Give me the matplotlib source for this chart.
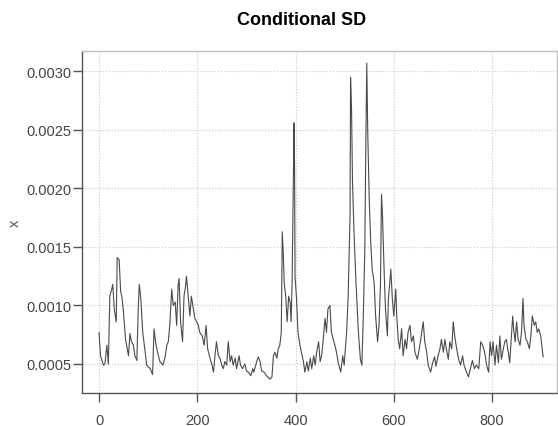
import numpy as np
import matplotlib.pyplot as plt

# conditional SD series
t = [0, 3, 9, 12, 16, 19, 22, 26, 28, 31, 35, 37, 41, 44, 47, 50, 54, 60, 63, 66,
     70, 73, 77, 80, 82, 85, 89, 94, 97, 104, 109, 112, 115, 119, 124, 130, 134, 138,
     141, 144, 148, 151, 155, 158, 161, 163, 166, 170, 173, 176, 178, 182, 185, 188,
     192, 195, 199, 202, 205, 210, 214, 218, 221, 226, 230, 233, 236, 239, 243, 246,
     250, 253, 256, 260, 263, 267, 270, 273, 277, 280, 285, 288, 292, 297, 300, 304,
     309, 313, 315, 319, 324, 328, 331, 336, 341, 348, 352, 355, 358, 362, 365, 368,
     371, 373, 375, 377, 380, 383, 386, 389, 391, 393, 395, 397, 398, 399, 402, 405,
     409, 412, 416, 419, 423, 426, 430, 433, 437, 440, 443, 447, 450, 453, 456, 460,
     463, 466, 470, 473, 478, 482, 487, 492, 496, 499, 504, 507, 511, 512, 514, 516,
     519, 523, 528, 532, 535, 538, 541, 543, 545, 547, 550, 553, 556, 560, 563, 567,
     570, 573, 575, 577, 580, 583, 587, 589, 592, 594, 597, 600, 604, 606, 609, 612,
     616, 619, 623, 626, 629, 633, 636, 640, 643, 648, 652, 657, 660, 663, 667, 670,
     675, 679, 683, 686, 690, 694, 697, 701, 704, 707, 711, 714, 718, 721, 724, 728,
     732, 736, 740, 743, 748, 752, 756, 760, 764, 768, 773, 777, 781, 785, 789, 793,
     796, 799, 802, 806, 809, 813, 816, 819, 823, 826, 829, 833, 836, 840, 842, 844,
     847, 850, 853, 857, 860, 863, 865, 869, 872, 876, 879, 882, 886, 889, 892, 895,
     899, 904]
sd = [0.00077, 0.00057, 0.00049, 0.00050, 0.00066, 0.00050, 0.00108, 0.00114, 0.00118,
      0.00097, 0.00086, 0.00141, 0.00139, 0.00112, 0.00106, 0.00093, 0.00071, 0.00057,
      0.00076, 0.00069, 0.00066, 0.00057, 0.00053, 0.00100, 0.00118, 0.00106, 0.00077,
      0.00060, 0.00049, 0.00046, 0.00041, 0.00080, 0.00069, 0.00060, 0.00052, 0.00049,
      0.00055, 0.00066, 0.00069, 0.00083, 0.00114, 0.00100, 0.00103, 0.00083, 0.00117,
      0.00123, 0.00086, 0.00069, 0.00108, 0.00116, 0.00125, 0.00106, 0.00091, 0.00108,
      0.00097, 0.00089, 0.00086, 0.00083, 0.00077, 0.00074, 0.00066, 0.00083, 0.00063,
      0.00055, 0.00049, 0.00043, 0.00057, 0.00069, 0.00057, 0.00055, 0.00049, 0.00046,
      0.00052, 0.00049, 0.00069, 0.00052, 0.00057, 0.00049, 0.00055, 0.00046, 0.00057,
      0.00049, 0.00046, 0.00050, 0.00044, 0.00043, 0.00040, 0.00046, 0.00043, 0.00049,
      0.00056, 0.00052, 0.00044, 0.00043, 0.00040, 0.00037, 0.00039, 0.00057, 0.00060,
      0.00055, 0.00063, 0.00066, 0.00077, 0.00163, 0.00145, 0.00119, 0.00108, 0.00086,
      0.00108, 0.00103, 0.00086, 0.00119, 0.00191, 0.00256, 0.00220, 0.00125, 0.00106,
      0.00077, 0.00066, 0.00060, 0.00052, 0.00043, 0.00052, 0.00044, 0.00055, 0.00046,
      0.00057, 0.00049, 0.00060, 0.00069, 0.00052, 0.00057, 0.00069, 0.00089, 0.00077,
      0.00097, 0.00100, 0.00077, 0.00069, 0.00063, 0.00051, 0.00043, 0.00057, 0.00049,
      0.00077, 0.00106, 0.00177, 0.00295, 0.00268, 0.00205, 0.00163, 0.00120, 0.00077,
      0.00054, 0.00049, 0.00091, 0.00148, 0.00234, 0.00307, 0.00248, 0.00191, 0.00154,
      0.00131, 0.00120, 0.00091, 0.00069, 0.00083, 0.00120, 0.00195, 0.00177, 0.00134,
      0.00097, 0.00074, 0.00106, 0.00120, 0.00131, 0.00106, 0.00091, 0.00114, 0.00091,
      0.00071, 0.00063, 0.00080, 0.00057, 0.00071, 0.00063, 0.00077, 0.00083, 0.00069,
      0.00074, 0.00060, 0.00054, 0.00063, 0.00077, 0.00086, 0.00069, 0.00060, 0.00049,
      0.00043, 0.00051, 0.00056, 0.00048, 0.00057, 0.00063, 0.00071, 0.00060, 0.00071,
      0.00063, 0.00054, 0.00069, 0.00063, 0.00086, 0.00074, 0.00063, 0.00054, 0.00049,
      0.00057, 0.00049, 0.00043, 0.00039, 0.00046, 0.00053, 0.00046, 0.00049, 0.00046,
      0.00069, 0.00066, 0.00060, 0.00049, 0.00043, 0.00069, 0.00057, 0.00069, 0.00049,
      0.00066, 0.00051, 0.00074, 0.00054, 0.00063, 0.00069, 0.00071, 0.00060, 0.00051,
      0.00077, 0.00091, 0.00080, 0.00069, 0.00086, 0.00071, 0.00066, 0.00077, 0.00106,
      0.00083, 0.00071, 0.00069, 0.00063, 0.00074, 0.00091, 0.00083, 0.00086, 0.00077,
      0.00080, 0.00074, 0.00056]

x_ticks = [0, 200, 400, 600, 800]
y_ticks = [0.0005, 0.0010, 0.0015, 0.0020, 0.0025, 0.0030]
y_labels = ["0.0005", "0.0010", "0.0015", "0.0020", "0.0025", "0.0030"]

plt.rcParams['font.family'] = ['Liberation Sans', 'DejaVu Sans']

fig = plt.figure(figsize=(5.58, 4.27), dpi=100)
ax = fig.add_axes([0.147, 0.0773, 0.851, 0.8009])

ax.plot(t, sd, color='#4a4a4a', linewidth=0.8)

ax.set_xlim(-34.6, 932)
ax.set_ylim(0.000252, 0.003174)
ax.set_xticks(x_ticks)
ax.set_yticks(y_ticks)
ax.set_yticklabels(y_labels)

ax.grid(True, linestyle=':', color='#c8c8c8', linewidth=0.8)
ax.set_axisbelow(True)

for side in ['left', 'bottom']:
    ax.spines[side].set_color('#555555')
    ax.spines[side].set_linewidth(1.0)
for side in ['top', 'right']:
    ax.spines[side].set_color('#c0c0c0')
    ax.spines[side].set_linewidth(1.0)

ax.tick_params(axis='both', direction='out', length=6.5, width=1.0,
               color='#555555', labelcolor='#444444', labelsize=10.5)
ax.tick_params(axis='x', pad=8)
ax.tick_params(axis='y', pad=1)

ax.set_ylabel('x', color='#555555', fontsize=10.5, labelpad=3)
fig.text(0.54, 0.953, 'Conditional SD', ha='center', va='center',
         fontsize=13, fontweight='bold', color='black')

fig.savefig('out.png', dpi=100)
